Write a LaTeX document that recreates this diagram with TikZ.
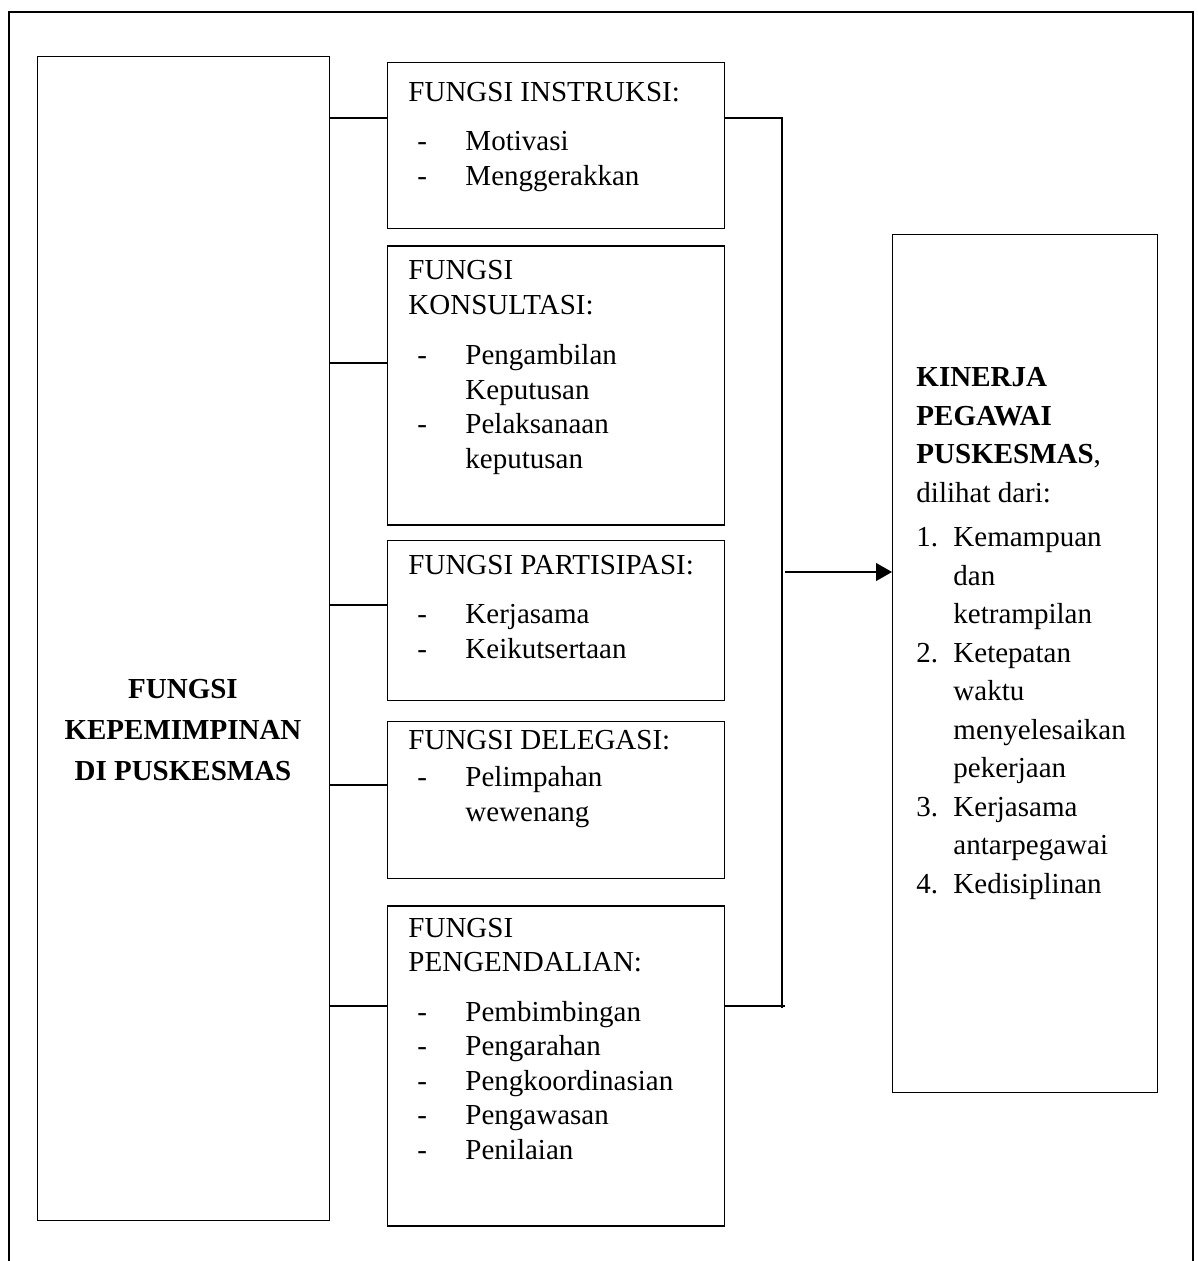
\documentclass[tikz,border=0pt]{standalone}
\usepackage{fontspec}
\setmainfont{Liberation Serif}
\usetikzlibrary{arrows.meta,positioning}
\newlength{\pxl}
\setlength{\pxl}{0.4138pt}
\newcommand{\butir}[1]{\hspace*{9\pxl}\makebox[48\pxl][l]{-}#1}
\newcommand{\lanjut}[1]{\hspace*{57\pxl}#1}
\newcommand{\nomor}[2]{\makebox[37\pxl][l]{#1}#2}
\newcommand{\sambung}[1]{\hspace*{37\pxl}#1}

\tikzset{
  kotak/.style={draw, line width=0.55pt, inner sep=0pt, anchor=north west},
  isi/.style={anchor=base west, inner sep=0pt, align=left,
    font=\fontsize{12}{34.5\pxl}\selectfont},
  garis/.style={line width=0.55pt},
  panah/.style={garis, -{Triangle[length=6.6pt, width=7.4pt]}},
}

\begin{document}
\begin{tikzpicture}[x=0.4138pt, y=-0.4138pt]
\useasboundingbox (0,0) rectangle (1198,1261);
% bingkai luar
\draw[garis] (9,1261) -- (9,12) -- (1193,12) -- (1193,1261);

% kotak-kotak
\node[kotak, minimum width=292*\pxl, minimum height=1164*\pxl] (pimpin) at (37,56) {};
\node[kotak, minimum width=337*\pxl, minimum height=166*\pxl] (instruksi) at (387,62) {};
\node[kotak, minimum width=337*\pxl, minimum height=279*\pxl, below=6.62pt of instruksi] (konsultasi) {};
\node[kotak, minimum width=337*\pxl, minimum height=160*\pxl, below=5.79pt of konsultasi] (partisipasi) {};
\node[kotak, minimum width=337*\pxl, minimum height=157*\pxl, below=8.28pt of partisipasi] (delegasi) {};
\node[kotak, minimum width=337*\pxl, minimum height=320*\pxl, below=10.76pt of delegasi] (pengendalian) {};
\node[kotak, minimum width=265*\pxl, minimum height=858*\pxl] (kinerja) at (892,234) {};

% teks (jangkar pada garis dasar baris terakhir)
\node[align=center, font=\bfseries\fontsize{12}{41\pxl}\selectfont] (t-pimpin) at (183,730)
  {FUNGSI\\KEPEMIMPINAN\\DI PUSKESMAS};
\node[isi] (t-instruksi) at (408,185)
  {FUNGSI INSTRUKSI:\\[15\pxl]\butir{Motivasi}\\\butir{Menggerakkan}};
\node[isi] (t-konsultasi) at (408,468)
  {FUNGSI\\KONSULTASI:\\[16\pxl]\butir{Pengambilan}\\\lanjut{Keputusan}\\\butir{Pelaksanaan}\\\lanjut{keputusan}};
\node[isi] (t-partisipasi) at (408,658)
  {FUNGSI PARTISIPASI:\\[15\pxl]\butir{Kerjasama}\\\butir{Keikutsertaan}};
\node[isi] (t-delegasi) at (408,821)
  {FUNGSI DELEGASI:\\[3\pxl]\butir{Pelimpahan}\\\lanjut{wewenang}};
\node[isi] (t-pengendalian) at (408,1159)
  {FUNGSI\\PENGENDALIAN:\\[15\pxl]\butir{Pembimbingan}\\\butir{Pengarahan}\\\butir{Pengkoordinasian}\\\butir{Pengawasan}\\\butir{Penilaian}};
\node[isi, font=\fontsize{12}{38.5\pxl}\selectfont] (t-kinerja) at (916,893)
  {\textbf{KINERJA}\\\textbf{PEGAWAI}\\\textbf{PUSKESMAS}, \\dilihat dari:\\[6\pxl]
   \nomor{1.}{Kemampuan}\\\sambung{dan}\\\sambung{ketrampilan}\\
   \nomor{2.}{Ketepatan}\\\sambung{waktu}\\\sambung{menyelesaikan}\\\sambung{pekerjaan}\\
   \nomor{3.}{Kerjasama}\\\sambung{antarpegawai}\\\nomor{4.}{Kedisiplinan}};

% penghubung
\foreach \b/\y in {instruksi/118, konsultasi/363, partisipasi/605, delegasi/785, pengendalian/1006}
  \draw[garis] (pimpin.east |- 0,\y) -- (\b.west |- 0,\y);
\coordinate (atas) at (782,118);
\coordinate (bawah) at (782,1008);
\coordinate (ujung) at (785,1006);
\coordinate (pangkal) at (785,572);
\draw[garis] (instruksi.east |- atas) -- (atas) -- (bawah);
\draw[garis] (pengendalian.east |- ujung) -- (ujung);
\draw[panah] (pangkal) -- (kinerja.west |- pangkal);
\end{tikzpicture}
\end{document}
